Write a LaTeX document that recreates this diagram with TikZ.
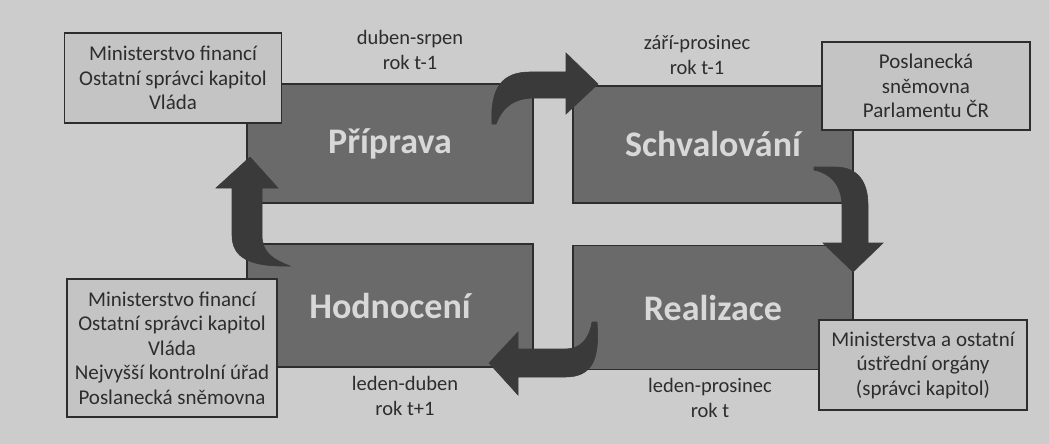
\documentclass[tikz,border=0pt]{standalone}
\usepackage{fontspec}
\setmainfont{Carlito}
\usetikzlibrary{positioning}
\tikzset{every picture/.style={line width=1.2pt}}
\definecolor{bg-grey}{RGB}{204,204,204}
\definecolor{phase-grey}{RGB}{106,106,106}
\definecolor{box-grey}{RGB}{196,196,196}
\definecolor{arrow-grey}{RGB}{58,58,58}
\definecolor{ink-grey}{RGB}{45,45,45}
\definecolor{label-grey}{RGB}{216,216,216}

\begin{document}
\begin{tikzpicture}
    [x=1pt, y=-1pt,
    phase/.style = {rectangle, draw=ink-grey, fill=phase-grey, text=label-grey,
            font=\fontsize{36}{42}\selectfont\bfseries, inner sep=0pt},
    info/.style = {rectangle, draw=ink-grey, fill=box-grey, text=ink-grey, align=center,
            font=\fontsize{21}{24.5}\selectfont, inner sep=0pt},
    time/.style = {align=center, text=ink-grey, font=\fontsize{20.5}{24.5}\selectfont},
    cyclearrow/.style = {fill=arrow-grey, draw=arrow-grey, line width=0.6pt},
    ]

\fill[bg-grey] (0,0) rectangle (1049,444);
\useasboundingbox (0,0) rectangle (1049,444);

% phases
\node[phase, minimum width=286pt, minimum height=119pt] (prep) at (390,143.5) {Příprava};
\node[phase, minimum width=280pt, minimum height=117pt] (appr) at (713,144.5) {Schvalování};
\node[phase, minimum width=286pt, minimum height=123pt] (eval) at (390,305.5) {Hodnocení};
\node[phase, minimum width=280pt, minimum height=124pt] (real) at (713,307.5) {Realizace};

% actors
\node[info, minimum width=217pt, minimum height=90pt] (prep-who) at (173,78)
    {Ministerstvo financí\\Ostatní správci kapitol\\Vláda};
\node[info, minimum width=208pt, minimum height=88pt] (appr-who) at (926,86)
    {Poslanecká\\sněmovna\\Parlamentu ČR};
\node[info, minimum width=210pt, minimum height=138pt] (eval-who) at (172,348)
    {Ministerstvo financí\\Ostatní správci kapitol\\Vláda\\Nejvyšší kontrolní úřad\\Poslanecká sněmovna};
\node[info, minimum width=208pt, minimum height=90pt] (real-who) at (923,365)
    {Ministerstva a ostatní\\ústřední orgány\\(správci kapitol)};

% periods
\node[time] (prep-when) at (410,50) {duben-srpen\\rok t-1};
\node[time] (appr-when) at (697,55) {září-prosinec\\rok t-1};
\node[time] (eval-when) at (405,396) {leden-duben\\rok t+1};
\node[time] (real-when) at (710,398) {leden-prosinec\\rok t};

% cycle arrows
\path[cyclearrow] (492,124) .. controls (490,88) and (502,72) .. (530,72) -- (566,72) -- (566,53)
    -- (598,84) -- (566,114) -- (566,98) -- (535,98) .. controls (515,98) and (503,106) .. (496,124) -- cycle;
\path[cyclearrow] (814,167) -- (835,167) .. controls (858,167) and (868,182) .. (868,205) -- (868,243)
    -- (883,243) -- (853,272) -- (823,243) -- (842,243) -- (842,207) .. controls (842,186) and (832,174) .. (814,170) -- cycle;
\path[cyclearrow] (597,322) .. controls (600,360) and (592,377) .. (565,377) -- (518,377) -- (518,395)
    -- (489,363) -- (518,332) -- (518,349) -- (565,349) .. controls (580,349) and (589,340) .. (592,322) -- cycle;
\path[cyclearrow] (232,188) -- (232,235) .. controls (232,258) and (250,267) .. (290,266)
    .. controls (272,259) and (262,252) .. (262,235) -- (262,188) -- (278,188) -- (250,157) -- (216,188) -- cycle;

\end{tikzpicture}
\end{document}
